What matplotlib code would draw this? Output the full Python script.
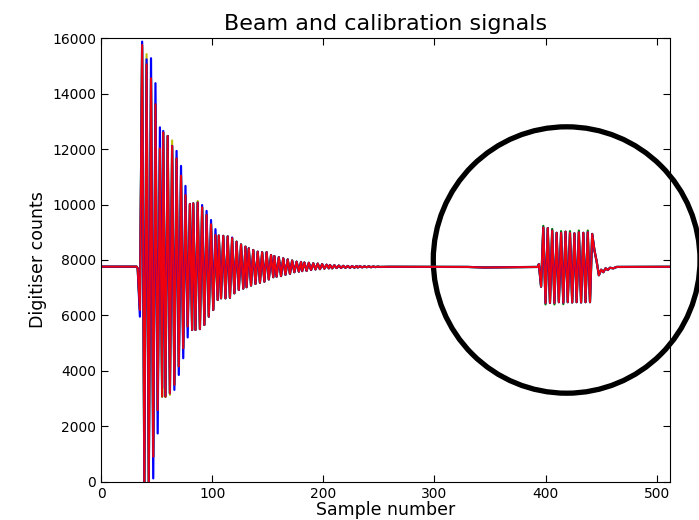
import matplotlib
matplotlib.use("Agg")
import matplotlib.pyplot as plt
from matplotlib.patches import Ellipse
import numpy as np

# ---------------- data ----------------
baseline = 7750

# beam signal: turning points (sample number, counts) of the red trace
beam_x = [0, 32, 33, 35, 37, 39, 41, 43, 45, 47, 49, 51, 53, 55, 56, 58, 60, 62, 64, 66,
          68, 70, 72, 74, 76, 78, 80, 82, 83, 85, 87, 89, 91, 93, 95, 97, 99, 101, 103,
          105, 106, 108, 110, 112, 114, 116, 118, 120, 122, 124, 126, 128, 130, 131, 133,
          135, 137, 139, 141, 143, 145, 147, 149, 151, 153, 155, 156, 158, 160, 162, 164,
          166, 168, 170, 172, 174, 176, 178, 180, 181, 183, 185, 187, 189, 191, 193, 195,
          197, 199, 201, 203, 205, 206, 208, 210, 212, 214, 216, 218, 220, 222, 224, 226,
          228, 230, 231, 233, 235, 237, 239, 241, 243, 245, 247, 249, 251, 260, 330, 345, 393]
beam_red = [7760, 7760, 7700, 6200, 15750, 0, 15050, 0, 14550, 910, 13610, 2590, 12020, 3080,
            12600, 3070, 12470, 3200, 12110, 3500, 11660, 4160, 11040, 4820, 10340, 5600,
            10020, 5480, 10040, 5480, 10070, 5510, 9900, 5660, 9620, 5960, 9290, 6200, 8900,
            6560, 8880, 6620, 8870, 6620, 8850, 6640, 8790, 6800, 8660, 6920, 8560, 6970,
            8480, 7020, 8420, 7080, 8360, 7140, 8300, 7180, 8280, 7220, 8280, 7300, 8180,
            7380, 8140, 7400, 8100, 7420, 8060, 7470, 8020, 7500, 7980, 7560, 7940, 7580,
            7930, 7600, 7910, 7610, 7900, 7640, 7880, 7660, 7870, 7670, 7850, 7690, 7830,
            7700, 7820, 7700, 7810, 7710, 7800, 7715, 7790, 7720, 7785, 7720, 7780, 7725,
            7780, 7730, 7775, 7735, 7770, 7740, 7770, 7740, 7765, 7745, 7760, 7750, 7755,
            7750, 7730, 7750]

# tips where the other traces stick out from under the red one
blue_tip_x = [35, 37, 41, 45, 47, 49, 51, 53, 55, 56, 58, 66, 68, 70, 72, 74, 76, 78, 91, 95, 99, 103, 118]
blue_tip_y = [5960, 15870, 15230, 15270, 130, 14370, 1750, 12780, 3380, 12650, 3100, 3320,
              11930, 3860, 11390, 4460, 10670, 5210, 9980, 9770, 9440, 9110, 8810]
yellow_tip_x = [37, 41, 62, 64, 87]
yellow_tip_y = [15650, 15420, 3140, 12310, 10130]

# calibration burst, turning points of the red trace
cal_x = [393, 394, 396, 398, 400, 402, 404, 406, 408, 410, 412, 414, 416, 418, 420, 422, 424,
         426, 428, 430, 432, 434, 436, 438, 440, 442, 444, 446, 448, 450, 452, 454, 456, 458,
         461, 464, 512]
cal_red = [7750, 7850, 7040, 9170, 6450, 9150, 6450, 9060, 6450, 8980, 6480, 8980, 6460,
           9020, 6480, 8980, 6470, 8960, 6480, 9000, 6470, 8980, 6480, 9000, 6480, 8940,
           8350, 7950, 7450, 7650, 7560, 7700, 7640, 7720, 7700, 7750, 7755]
green_tip_x = [398, 406, 414, 422, 430, 438, 400, 408, 416]
green_tip_y = [9230, 9120, 9040, 9040, 9060, 9060, 6400, 6400, 6410]


def with_tips(xs, ys, tip_x, tip_y):
    out = list(ys)
    for tx, ty in zip(tip_x, tip_y):
        out[xs.index(tx)] = ty
    return out


x_all = beam_x + cal_x
red = beam_red + cal_red
blue = with_tips(x_all, red, blue_tip_x, blue_tip_y)
yellow = with_tips(x_all, red, yellow_tip_x, yellow_tip_y)
green = with_tips(x_all, red, green_tip_x, green_tip_y)

# ---------------- figure ----------------
fig = plt.figure(figsize=(6.99, 5.2), dpi=100)
ax = fig.add_axes([0.1445, 0.0731, 0.814, 0.8538])

ax.plot(x_all, yellow, color="#bfbf00", lw=1.5)
ax.plot(x_all, green, color="#008000", lw=1.6)
ax.plot(x_all, blue, color="#0000ff", lw=1.6)
ax.plot(x_all, red, color="#ff0000", lw=1.4, alpha=0.94)

ax.set_xlim(0, 512)
ax.set_ylim(0, 16000)
ax.set_xticks(np.arange(0, 501, 100))
ax.set_yticks(np.arange(0, 16001, 2000))
ax.tick_params(direction="in", top=True, right=True, length=5, labelsize=10)
ax.set_xlabel("Sample number", fontsize=12.5, labelpad=0)
ax.set_ylabel("Digitiser counts", fontsize=12.5)
ax.set_title("Beam and calibration signals", fontsize=16, pad=6)

ring = Ellipse((419, 8000), 240, 9600, fill=False, edgecolor="black", lw=3.8, clip_on=False)
ax.add_patch(ring)

fig.savefig("out.png", dpi=100)
